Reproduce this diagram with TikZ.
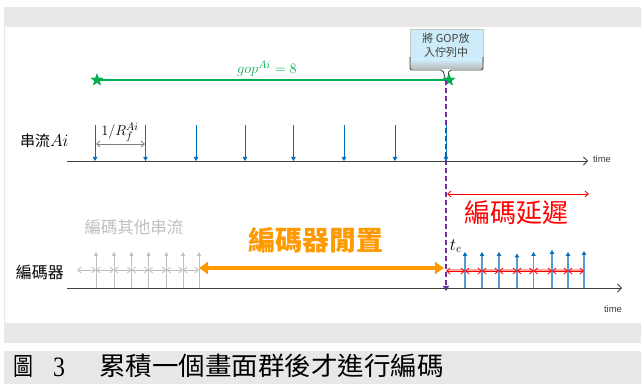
\documentclass[tikz,border=0pt]{standalone}
\usepackage{fontspec}
\setmainfont{Liberation Sans}
\newfontfamily\cjk{Noto Sans CJK TC}
\newfontfamily\capnum{Liberation Serif}
\usetikzlibrary{arrows.meta,shapes.geometric}
\definecolor{bgray}{HTML}{E8E8E8}
\definecolor{gstar}{HTML}{00B050}
\definecolor{pur}{HTML}{7030A0}
\definecolor{axis}{HTML}{404040}
\definecolor{bdark}{HTML}{0070C0}
\definecolor{blight}{HTML}{5B9BD5}
\definecolor{lgray}{HTML}{BFBFBF}
\definecolor{org}{HTML}{FF9900}
\definecolor{callfill}{HTML}{CDEBF8}
\tikzset{
  txt/.style={inner sep=0pt, outer sep=0pt},
  gstarnode/.style={star, star points=5, star point ratio=2.4, fill=gstar, draw=none, minimum size=13pt, inner sep=0pt},
  axisline/.style={draw=axis, line width=0.8pt, -{Straight Barb[length=4pt,width=8pt]}},
  downarr/.style={draw=bdark, line width=0.9pt, -{Triangle[length=4pt,width=4.5pt]}},
  uparr/.style={draw=blight, line width=1.6pt, -{Triangle[length=4pt,width=4.5pt,color=bdark]}},
  grayup/.style={draw=lgray, line width=0.8pt, -{Triangle[length=4pt,width=4pt]}},
  graydbl/.style={draw=lgray, line width=0.8pt, {Straight Barb[length=3.5pt,width=6pt]}-{Straight Barb[length=3.5pt,width=6pt]}},
  reddbl/.style={draw=red, line width=0.8pt, {Straight Barb[length=3.5pt,width=6pt]}-{Straight Barb[length=3.5pt,width=6pt]}},
  dimarr/.style={draw=gray, line width=0.8pt, {Straight Barb[length=3.5pt,width=6pt]}-{Straight Barb[length=3.5pt,width=6pt]}},
}
\begin{document}
\begin{tikzpicture}[x=1pt,y=-1pt]
\useasboundingbox (0,0) rectangle (641,385);
% frame
\fill[bgray] (4,7) rectangle (641,343);
\fill[white] (5,27) rectangle (641,323);
\fill[bgray] (4,351) rectangle (641,384);

% callout
\fill[callfill] (410,29) rectangle (483,62);
\shade[top color=callfill, bottom color=gray!55] (410,60) rectangle (483,69);
\draw[gray!45, line width=0.6pt] (410,62) -- (410,29) -- (483,29) -- (483,62);
\draw[black!80, line width=0.8pt, rounded corners=2pt] (410,57) -- (410,70) -- (443,70) -- (445,78);
\draw[black!80, line width=0.8pt, rounded corners=2pt] (448,78) -- (449,70) -- (483,70) -- (483,57);
\node[txt, align=center, text=axis, font=\cjk\fontsize{11}{14}\selectfont] (call) at (446,45) {將 GOP放\\入佇列中};

% gop line
\node[gstarnode] (s1) at (97,80) {};
\node[gstarnode] (s2) at (449,80) {};
\draw[gstar, line width=1.5pt] (s1.center) -- (s2.center);
\node[gstarnode] at (97,80) {};
\node[gstarnode] at (449,80) {};
\node[txt, text=gstar, font=\fontsize{15.5}{15.5}\selectfont] (gop) at (267,69) {$gop^{Ai}=8$};

% purple dashed
\coordinate (p1) at (446,80);
\coordinate (p2) at (446,291);
\draw[pur, line width=1.1pt, dash pattern=on 5pt off 3pt, -{Triangle[length=5pt,width=6pt]}] (p1) -- (p2);

% timeline 1
\coordinate (t1a) at (67,161);
\coordinate (t1b) at (588,161);
\draw[axisline] (t1a) -- (t1b);
\node[txt, anchor=west, font=\fontsize{9.5}{10}\selectfont, text=axis] (time1) at (593,159) {time};
\node[txt, anchor=west] (streamlab) at (20,141) {{\cjk\fontsize{15}{15}\selectfont 串流}{\fontsize{17}{17}\selectfont$Ai$}};

\foreach \x [count=\i] in {95,145.5,196,245,293.5,344,395,446} {
  \coordinate (da\i) at (\x,125);
  \coordinate (db\i) at (\x,161);
  \draw[downarr] (da\i) -- (db\i);
}
\coordinate (r1) at (96,144);
\coordinate (r2) at (145,144);
\draw[dimarr] (r1) -- (r2);
\node[txt, font=\fontsize{15}{15}\selectfont] (rlab) at (120,132) {$1/R_f^{Ai}$};

% encoding delay
\coordinate (ed1) at (447,194);
\coordinate (ed2) at (589,194);
\draw[reddbl] (ed1) -- (ed2);
\node[txt, text=red, font=\cjk\fontsize{26}{26}\selectfont] (edlab) at (516,213) {編碼延遲};

% encoder row labels
\node[txt, text=lgray, font=\cjk\fontsize{16.5}{17}\selectfont] (other) at (134,227) {編碼其他串流};
\node[txt, text=org, font=\cjk\bfseries\fontsize{27}{27}\selectfont] (idle) at (316,240) {編碼器閒置};
\node[txt, anchor=west, font=\cjk\fontsize{16}{16}\selectfont] (enclab) at (16,272) {編碼器};
\node[txt, font=\fontsize{18}{18}\selectfont] (te) at (456,246) {$t_e$};

% idle arrow
\coordinate (ia1) at (199,268);
\coordinate (ia2) at (444,268);
\draw[org, line width=4pt, {Triangle[length=9pt,width=12pt]}-{Triangle[length=9pt,width=12pt]}] (ia1) -- (ia2);

% timeline 2
\coordinate (t2a) at (67,288);
\coordinate (t2b) at (622,288);
\draw[axisline] (t2a) -- (t2b);
\node[txt, anchor=west, font=\fontsize{9.5}{10}\selectfont, text=axis] (time2) at (604,309) {time};

% gray encoded other streams
\coordinate (g0) at (77,270);
\foreach \x [count=\i] in {96,114,131.5,148.5,166.5,183,199} {
  \coordinate (gb\i) at (\x,288);
  \coordinate (gt\i) at (\x,252);
  \coordinate (g\i) at (\x,270);
  \draw[grayup] (gb\i) -- (gt\i);
}
\foreach \i [evaluate=\i as \j using int(\i-1)] in {1,...,7} {
  \draw[graydbl] (g\j) -- (g\i);
}

% blue encoded frames
\draw[red!35, line width=3pt] (447,271) -- (584,271);
\coordinate (e0) at (446,271);
\foreach \x/\t [count=\i] in {465/252,482/252,499/252,517/253.5,533.5/252,552/250,568/252,584/251} {
  \coordinate (eb\i) at (\x,288);
  \coordinate (et\i) at (\x,\t);
  \coordinate (e\i) at (\x,271);
  \draw[uparr] (eb\i) -- (et\i);
}
\foreach \i [evaluate=\i as \j using int(\i-1)] in {1,...,8} {
  \draw[reddbl] (e\j) -- (e\i);
}

% caption
\node[txt, anchor=west] (cap1) at (13,366) {\scalebox{0.8}[1]{\cjk\fontsize{25}{25}\selectfont 圖}};
\node[txt, anchor=west] (cap2) at (53,367) {\scalebox{0.85}[1]{\capnum\fontsize{28}{28}\selectfont 3}};
\node[txt, anchor=west] (cap3) at (99,366) {\scalebox{1.04}[1]{\cjk\fontsize{25.5}{25.5}\selectfont 累積一個畫面群後才進行編碼}};
\end{tikzpicture}
\end{document}
